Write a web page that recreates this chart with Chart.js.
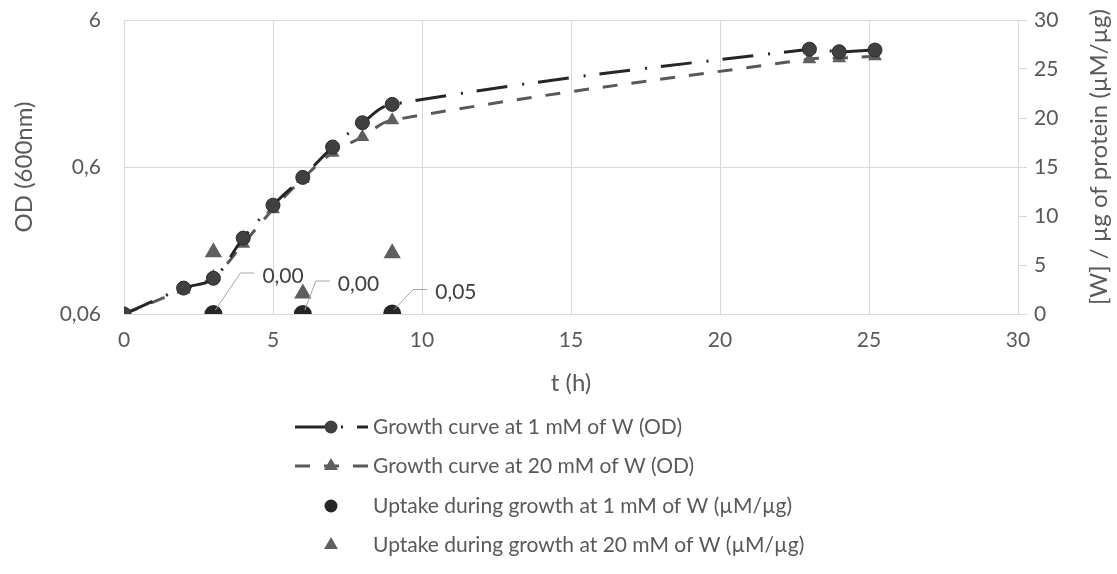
<!DOCTYPE html>
<html>
<head>
<meta charset="utf-8">
<script src="https://cdn.jsdelivr.net/npm/chart.js@4.4.1/dist/chart.umd.min.js"></script>
<style>
  body { margin: 0; background: #fff; }
  canvas { display: block; }
</style>
</head>
<body>
<canvas id="chart" width="1117" height="574"></canvas>
<script>
const hours = [0, 2, 3, 4, 5, 6, 7, 8, 9, 23, 24, 25.2];
const od1mM = [0.06, 0.09, 0.105, 0.197, 0.33, 0.51, 0.82, 1.2, 1.6, 3.8, 3.65, 3.75];
const od20mM = [0.06, 0.088, 0.107, 0.18, 0.31, 0.5, 0.75, 0.96, 1.25, 3.25, 3.3, 3.4];

const uptakeHours = [3, 6, 9];
const uptake1mM = [0, 0, 0.05];
const uptake20mM = [6.3, 2.1, 6.2];

const odTicks = [0.06, 0.6, 6];

const labels = [
    'Growth curve at 1 mM of W (OD)',
    'Growth curve at 20 mM of W (OD)',
    'Uptake during growth at 1 mM of W (µM/µg)',
    'Uptake during growth at 20 mM of W (µM/µg)'
];

const FONT = 'Lato';
const textColor = '#595959';
const gridColor = '#d9d9d9';

// where the value labels sit, relative to the point (px)
const labelOffsets = [[49, -38], [35, -30], [43, -21]];

function toPoints(xs, ys) {
    return xs.map((x, i) => ({ x: x, y: ys[i] }));
}

function fmt(v, d) {
    return v.toFixed(d).replace('.', ',');
}

function drawMarker(ctx, style, x, y, r, color) {
    ctx.save();
    ctx.fillStyle = color;
    ctx.beginPath();
    if (style === 'triangle') {
        ctx.moveTo(x, y - r);
        ctx.lineTo(x + r * 0.866, y + r * 0.5);
        ctx.lineTo(x - r * 0.866, y + r * 0.5);
        ctx.closePath();
    } else {
        ctx.arc(x, y, r, 0, Math.PI * 2);
    }
    ctx.fill();
    ctx.restore();
}

const extras = {
    id: 'extras',
    afterDatasetsDraw(chart) {
        const ctx = chart.ctx;
        // value labels with leader lines
        const meta = chart.getDatasetMeta(2);
        ctx.save();
        ctx.font = '21px ' + FONT;
        ctx.fillStyle = '#404040';
        ctx.textBaseline = 'middle';
        ctx.strokeStyle = '#a6a6a6';
        ctx.lineWidth = 1;
        meta.data.forEach((pt, i) => {
            const [dx, dy] = labelOffsets[i];
            const tx = pt.x + dx, ty = pt.y + dy;
            ctx.beginPath();
            ctx.moveTo(pt.x + 2, pt.y - 4);
            ctx.lineTo(tx - 22, ty - 3);
            ctx.lineTo(tx - 8, ty - 3);
            ctx.stroke();
            ctx.fillText(fmt(uptake1mM[i], 2), tx, ty);
        });
        ctx.restore();
    },
    afterDraw(chart) {
        const ctx = chart.ctx;
        // right axis title, reading bottom to top
        ctx.save();
        ctx.font = '24px ' + FONT;
        ctx.fillStyle = textColor;
        ctx.textAlign = 'center';
        ctx.textBaseline = 'middle';
        ctx.translate(1099, 157);
        ctx.rotate(-Math.PI / 2);
        ctx.fillText('[W] / µg of protein (µM/µg)', 0, 0);
        ctx.restore();

        // legend, one entry per row
        const rows = [427, 466, 506, 545];
        chart.data.datasets.forEach((ds, i) => {
            const y = rows[i];
            if (ds.showLine) {
                ctx.save();
                ctx.strokeStyle = ds.borderColor;
                ctx.lineWidth = ds.borderWidth;
                ctx.setLineDash(ds.borderDash);
                ctx.beginPath();
                ctx.moveTo(295, y);
                ctx.lineTo(368, y);
                ctx.stroke();
                ctx.restore();
            }
            const r = ds.pointStyle === 'triangle' ? 8 : 6.5;
            drawMarker(ctx, ds.pointStyle, 331, y, r, ds.pointBackgroundColor);
            ctx.save();
            ctx.font = '21px ' + FONT;
            ctx.fillStyle = textColor;
            ctx.textBaseline = 'middle';
            ctx.fillText(labels[i], 373, y);
            ctx.restore();
        });
    }
};

const data = {
    datasets: [{
        label: labels[0],
        data: toPoints(hours, od1mM),
        yAxisID: 'y',
        showLine: true,
        borderColor: '#262626',
        borderWidth: 3,
        borderDash: [31, 15, 2, 14],
        tension: 0.4,
        pointStyle: 'circle',
        pointRadius: 7,
        pointBackgroundColor: '#404040',
        pointBorderColor: '#2a2a2a',
        pointBorderWidth: 1
    }, {
        label: labels[1],
        data: toPoints(hours, od20mM),
        yAxisID: 'y',
        showLine: true,
        borderColor: '#595959',
        borderWidth: 3,
        borderDash: [15, 14],
        tension: 0.4,
        pointStyle: 'triangle',
        pointRadius: 8,
        pointBackgroundColor: '#5f5f5f',
        pointBorderWidth: 0
    }, {
        label: labels[2],
        data: toPoints(uptakeHours, uptake1mM),
        yAxisID: 'y1',
        showLine: false,
        pointStyle: 'circle',
        pointRadius: 9,
        pointBackgroundColor: '#262626',
        pointBorderWidth: 0
    }, {
        label: labels[3],
        data: toPoints(uptakeHours, uptake20mM),
        yAxisID: 'y1',
        showLine: false,
        pointStyle: 'triangle',
        pointRadius: 10,
        pointBackgroundColor: '#5f5f5f',
        pointBorderWidth: 0
    }]
};

const config = {
    type: 'scatter',
    data,
    options: {
        responsive: false,
        animation: false,
        layout: {
            padding: { top: 20, left: 0, right: 0, bottom: 175 }
        },
        plugins: {
            legend: { display: false },
            tooltip: { enabled: false }
        },
        scales: {
            x: {
                type: 'linear',
                min: 0,
                max: 30,
                ticks: {
                    stepSize: 5,
                    padding: 14,
                    color: textColor,
                    font: { family: FONT, size: 21 }
                },
                grid: { color: gridColor, drawTicks: false },
                border: { color: gridColor },
                title: {
                    display: true,
                    text: 't (h)',
                    color: textColor,
                    font: { family: FONT, size: 24 },
                    padding: { top: 0, bottom: 1 }
                },
                afterFit(scale) { scale.height = 85; }
            },
            y: {
                type: 'logarithmic',
                position: 'left',
                min: 0.06,
                max: 6,
                afterBuildTicks(scale) {
                    scale.ticks = odTicks.map(v => ({ value: v }));
                },
                ticks: {
                    padding: 3,
                    color: textColor,
                    font: { family: FONT, size: 21 },
                    callback: v => String(v).replace('.', ',')
                },
                // invisible tick marks keep the labels off the axis
                grid: { color: gridColor, drawTicks: true, tickLength: 20, tickColor: 'rgba(0,0,0,0)' },
                border: { color: gridColor },
                title: {
                    display: true,
                    text: 'OD (600nm)',
                    color: textColor,
                    font: { family: FONT, size: 24 },
                    padding: { top: 10, bottom: 0 }
                },
                afterFit(scale) { scale.width = 124; }
            },
            y1: {
                type: 'linear',
                position: 'right',
                min: 0,
                max: 30,
                ticks: {
                    stepSize: 5,
                    padding: 7,
                    color: textColor,
                    font: { family: FONT, size: 21 }
                },
                grid: { drawOnChartArea: false, color: gridColor, tickLength: 9 },
                border: { color: gridColor },
                afterFit(scale) { scale.width = 99; }
            }
        }
    },
    plugins: [extras]
};

new Chart(document.getElementById('chart'), config);
</script>
</body>
</html>
